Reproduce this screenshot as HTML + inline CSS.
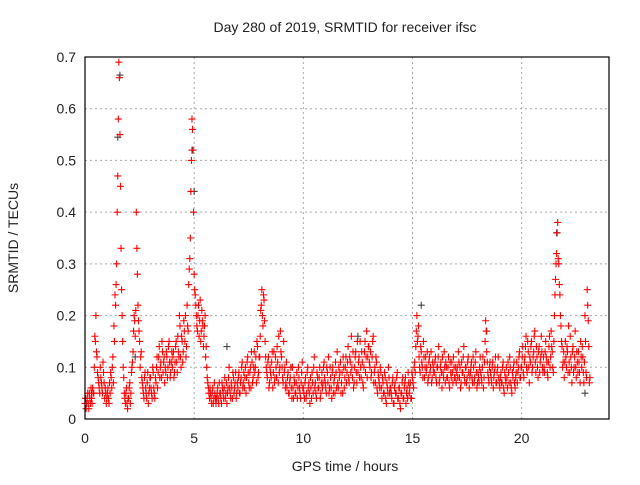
<!DOCTYPE html>
<html><head><meta charset="utf-8"><style>
body{margin:0;background:#fff}
svg text{font-family:"Liberation Sans",sans-serif;font-size:14px;fill:#222}
</style></head><body>
<svg id="chart" width="640" height="480" xmlns="http://www.w3.org/2000/svg">
<text x="345" y="32" text-anchor="middle">Day 280 of 2019, SRMTID for receiver ifsc</text>
<text transform="translate(18,238) rotate(-90)" text-anchor="middle">SRMTID / TECUs</text>
<text x="345" y="471" text-anchor="middle">GPS time / hours</text>
<g id="grid"></g><g id="ticks"></g><g id="gray"></g><g id="pts"></g>
<rect x="85" y="57" width="524" height="362" fill="none" stroke="#000" stroke-width="1.2"/>
</svg>
<script>
const xTicks=[0,5,10,15,20];
const yTicks=[0,0.1,0.2,0.3,0.4,0.5,0.6,0.7];
const yTickLabels=["0","0.1","0.2","0.3","0.4","0.5","0.6","0.7"];
const hourStarts=[0,1,2,3,4,5,6,7,8,9,10,11,12,13,14,15,16,17,18,19,20,21,22,23];
const h0=[0.03,0.02,0.04,0.03,0.05,0.03,0.04,0.06,0.05,0.16,0.2,0.12,0.08,0.06,0.1,0.07,0.05,0.09,0.04,0.05];
const h1=[0.04,0.06,0.03,0.05,0.08,0.1,0.07,0.15,0.22,0.3,0.47,0.69,0.55,0.33,0.2,0.1,0.05,0.03,0.06,0.02];
const h2=[0.04,0.07,0.05,0.1,0.13,0.2,0.16,0.4,0.28,0.19,0.15,0.12,0.08,0.06,0.04,0.09,0.05,0.07,0.03,0.06];
const h3=[0.08,0.05,0.1,0.06,0.04,0.07,0.12,0.09,0.14,0.1,0.08,0.13,0.11,0.07,0.09,0.12,0.1,0.15,0.08,0.11];
const h4=[0.1,0.13,0.09,0.14,0.11,0.16,0.12,0.18,0.1,0.15,0.13,0.17,0.2,0.14,0.18,0.26,0.31,0.44,0.58,0.52];
const h5=[0.28,0.24,0.2,0.17,0.22,0.19,0.15,0.21,0.18,0.16,0.2,0.14,0.08,0.06,0.04,0.05,0.03,0.06,0.04,0.05];
const h6=[0.03,0.05,0.04,0.07,0.05,0.03,0.06,0.04,0.08,0.05,0.03,0.06,0.1,0.05,0.07,0.04,0.08,0.06,0.09,0.05];
const h7=[0.06,0.09,0.05,0.08,0.11,0.07,0.06,0.1,0.08,0.12,0.07,0.09,0.06,0.11,0.08,0.13,0.1,0.07,0.14,0.09];
const h8=[0.12,0.21,0.25,0.18,0.23,0.15,0.1,0.08,0.12,0.07,0.09,0.11,0.06,0.13,0.08,0.1,0.14,0.07,0.09,0.17];
const h9=[0.12,0.08,0.15,0.1,0.07,0.06,0.09,0.05,0.08,0.06,0.1,0.04,0.07,0.05,0.09,0.06,0.08,0.05,0.07,0.11];
const h10=[0.06,0.04,0.08,0.05,0.1,0.07,0.03,0.06,0.09,0.05,0.12,0.07,0.04,0.08,0.06,0.1,0.05,0.09,0.07,0.11];
const h11=[0.07,0.05,0.09,0.12,0.06,0.08,0.04,0.1,0.07,0.05,0.09,0.13,0.06,0.08,0.11,0.07,0.05,0.1,0.08,0.12];
const h12=[0.09,0.14,0.07,0.11,0.16,0.08,0.06,0.1,0.13,0.07,0.09,0.12,0.15,0.08,0.11,0.06,0.13,0.09,0.17,0.12];
const h13=[0.14,0.1,0.08,0.12,0.16,0.09,0.07,0.11,0.05,0.08,0.06,0.09,0.04,0.07,0.05,0.08,0.03,0.06,0.1,0.05];
const h14=[0.06,0.04,0.08,0.03,0.07,0.05,0.09,0.04,0.06,0.02,0.05,0.08,0.04,0.07,0.03,0.06,0.09,0.05,0.07,0.04];
const h15=[0.08,0.06,0.11,0.14,0.2,0.16,0.12,0.09,0.13,0.1,0.15,0.08,0.12,0.1,0.07,0.11,0.09,0.13,0.08,0.1];
const h16=[0.09,0.12,0.07,0.1,0.14,0.08,0.11,0.06,0.09,0.13,0.07,0.1,0.08,0.12,0.06,0.09,0.11,0.07,0.1,0.08];
const h17=[0.07,0.1,0.13,0.08,0.06,0.11,0.09,0.14,0.07,0.1,0.08,0.12,0.06,0.09,0.11,0.07,0.1,0.08,0.13,0.06];
const h18=[0.09,0.07,0.12,0.08,0.1,0.06,0.11,0.19,0.13,0.09,0.07,0.11,0.08,0.1,0.06,0.09,0.12,0.07,0.1,0.08];
const h19=[0.06,0.09,0.07,0.11,0.05,0.08,0.1,0.06,0.09,0.12,0.07,0.05,0.08,0.11,0.06,0.09,0.07,0.1,0.13,0.08];
const h20=[0.1,0.14,0.08,0.12,0.16,0.09,0.13,0.07,0.11,0.15,0.1,0.13,0.17,0.09,0.12,0.08,0.14,0.11,0.16,0.1];
const h21=[0.12,0.09,0.15,0.11,0.08,0.14,0.1,0.17,0.13,0.09,0.2,0.27,0.32,0.38,0.3,0.24,0.18,0.14,0.11,0.08];
const h22=[0.15,0.1,0.13,0.18,0.09,0.12,0.07,0.14,0.1,0.17,0.08,0.11,0.13,0.09,0.15,0.1,0.12,0.07,0.2,0.09];
const h23=[0.25,0.19,0.07];
/* second, interleaved samples (offset by half a step) */
const k0=[0.04,0.03,0.05,0.02,0.04,0.06,0.03,0.05,0.1,0.15,0.13,0.09,0.07,0.05,0.08,0.06,0.11,0.07,0.06,0.03];
const k1=[0.05,0.04,0.07,0.09,0.06,0.12,0.18,0.24,0.26,0.4,0.58,0.66,0.45,0.25,0.15,0.08,0.04,0.05,0.03,0.04];
const k2=[0.06,0.03,0.09,0.11,0.17,0.19,0.21,0.33,0.22,0.17,0.1,0.13,0.07,0.05,0.08,0.06,0.04,0.09,0.05,0.08];
const k3=[0.06,0.04,0.09,0.05,0.08,0.1,0.06,0.12,0.08,0.11,0.15,0.09,0.12,0.1,0.13,0.08,0.14,0.11,0.09,0.13];
const k4=[0.12,0.08,0.11,0.15,0.09,0.13,0.2,0.12,0.16,0.11,0.19,0.15,0.12,0.22,0.17,0.29,0.35,0.5,0.56,0.4];
const k5=[0.25,0.22,0.18,0.2,0.16,0.23,0.17,0.19,0.14,0.18,0.12,0.1,0.07,0.05,0.06,0.04,0.05,0.03,0.07,0.04];
const k6=[0.04,0.06,0.03,0.05,0.04,0.07,0.05,0.06,0.04,0.07,0.05,0.08,0.06,0.04,0.06,0.09,0.05,0.07,0.04,0.07];
const k7=[0.08,0.05,0.07,0.1,0.06,0.09,0.08,0.05,0.11,0.09,0.06,0.1,0.13,0.07,0.1,0.09,0.12,0.15,0.08,0.12];
const k8=[0.16,0.22,0.2,0.24,0.19,0.12,0.09,0.11,0.06,0.1,0.08,0.13,0.09,0.07,0.12,0.08,0.11,0.16,0.1,0.13];
const k9=[0.1,0.07,0.09,0.06,0.11,0.08,0.05,0.07,0.1,0.04,0.06,0.08,0.05,0.07,0.04,0.1,0.06,0.04,0.09,0.06];
const k10=[0.05,0.07,0.04,0.09,0.06,0.05,0.08,0.04,0.07,0.1,0.06,0.05,0.09,0.06,0.08,0.04,0.07,0.06,0.1,0.08];
const k11=[0.06,0.1,0.07,0.05,0.1,0.06,0.09,0.05,0.08,0.11,0.06,0.07,0.1,0.09,0.05,0.09,0.12,0.06,0.1,0.07];
const k12=[0.11,0.08,0.12,0.09,0.1,0.13,0.07,0.12,0.09,0.15,0.11,0.08,0.1,0.13,0.07,0.1,0.15,0.12,0.08,0.14];
const k13=[0.11,0.13,0.09,0.15,0.07,0.1,0.12,0.06,0.09,0.07,0.1,0.06,0.08,0.05,0.09,0.04,0.07,0.05,0.08,0.06];
const k14=[0.05,0.07,0.03,0.06,0.05,0.08,0.04,0.06,0.03,0.05,0.07,0.04,0.06,0.08,0.05,0.04,0.07,0.06,0.04,0.09];
const k15=[0.07,0.1,0.09,0.17,0.15,0.18,0.1,0.14,0.11,0.08,0.12,0.1,0.09,0.13,0.08,0.12,0.1,0.07,0.11,0.09];
const k16=[0.11,0.08,0.1,0.12,0.07,0.1,0.09,0.12,0.08,0.1,0.11,0.08,0.1,0.07,0.11,0.08,0.09,0.12,0.08,0.1];
const k17=[0.09,0.08,0.11,0.1,0.07,0.09,0.12,0.08,0.1,0.07,0.11,0.09,0.08,0.1,0.08,0.12,0.07,0.11,0.09,0.07];
const k18=[0.08,0.1,0.09,0.07,0.12,0.08,0.15,0.17,0.11,0.08,0.1,0.09,0.07,0.11,0.08,0.1,0.07,0.09,0.12,0.07];
const k19=[0.08,0.07,0.1,0.06,0.09,0.07,0.08,0.11,0.07,0.1,0.06,0.09,0.1,0.07,0.08,0.11,0.09,0.12,0.08,0.1];
const k20=[0.12,0.09,0.11,0.14,0.1,0.15,0.1,0.12,0.14,0.09,0.12,0.16,0.11,0.14,0.1,0.13,0.09,0.12,0.13,0.09];
const k21=[0.1,0.13,0.12,0.09,0.11,0.16,0.12,0.14,0.1,0.15,0.24,0.3,0.36,0.31,0.26,0.2,0.15,0.1,0.13,0.11];
const k22=[0.12,0.14,0.09,0.11,0.16,0.1,0.13,0.09,0.12,0.1,0.13,0.09,0.11,0.07,0.12,0.14,0.09,0.11,0.15,0.08];
const k23=[0.22,0.14,0.08];
const grayHours=[0.3,1.6,1.5,2.3,4.9,5.0,6.5,9.5,12.5,15.4,18.4,21.6,22.9];
const grayValues=[0.05,0.665,0.545,0.12,0.52,0.44,0.14,0.1,0.16,0.22,0.17,0.36,0.05];
const hourValues=[h0,h1,h2,h3,h4,h5,h6,h7,h8,h9,h10,h11,h12,h13,h14,h15,h16,h17,h18,h19,h20,h21,h22,h23];
const hourValues2=[k0,k1,k2,k3,k4,k5,k6,k7,k8,k9,k10,k11,k12,k13,k14,k15,k16,k17,k18,k19,k20,k21,k22,k23];
const NS="http://www.w3.org/2000/svg";
const X=t=>85+t*(524/24), Y=v=>419-v*(362/0.7);
function mk(tag,a,p){const e=document.createElementNS(NS,tag);for(const k in a)e.setAttribute(k,a[k]);p.appendChild(e);return e;}
const grid=document.getElementById('grid'),ticks=document.getElementById('ticks');
xTicks.forEach(t=>{
 if(t>0){const g=mk('line',{x1:X(t),x2:X(t),y1:57,y2:419,stroke:'#aaa','stroke-dasharray':'2,3'},grid);
 
 }
 const l=mk('text',{x:X(t),y:443,'text-anchor':'middle'},ticks);l.textContent=t;
 
 
});
yTicks.forEach((v,i)=>{
 if(v>0&&v<0.7){const g=mk('line',{x1:85,x2:609,y1:Y(v),y2:Y(v),stroke:'#aaa','stroke-dasharray':'2,3'},grid);
 
 }
 const l=mk('text',{x:76,y:Y(v)+5,'text-anchor':'end'},ticks);l.textContent=yTickLabels[i];
 
 
});
function plus(t,v,col,parent){
 const x=X(t),y=Y(v);
 return mk('path',{d:`M${x-3.5},${y}h7M${x},${y-3.5}v7`,stroke:col,'stroke-width':1.1,fill:'none'},parent);
}
const gray=document.getElementById('gray');
grayHours.forEach((t,i)=>{const p=plus(t,grayValues[i],'#444',gray);
 
 });
const pts=document.getElementById('pts');
hourValues.forEach((arr,h)=>arr.forEach((v,i)=>{
 const p=plus(hourStarts[h]+i/20,v,'#f00',pts);
 
 
}));
hourValues2.forEach((arr,h)=>arr.forEach((v,i)=>{
 const p=plus(hourStarts[h]+i/20+0.025,v,'#f00',pts);
 
 
}));
</script>
</body></html>
